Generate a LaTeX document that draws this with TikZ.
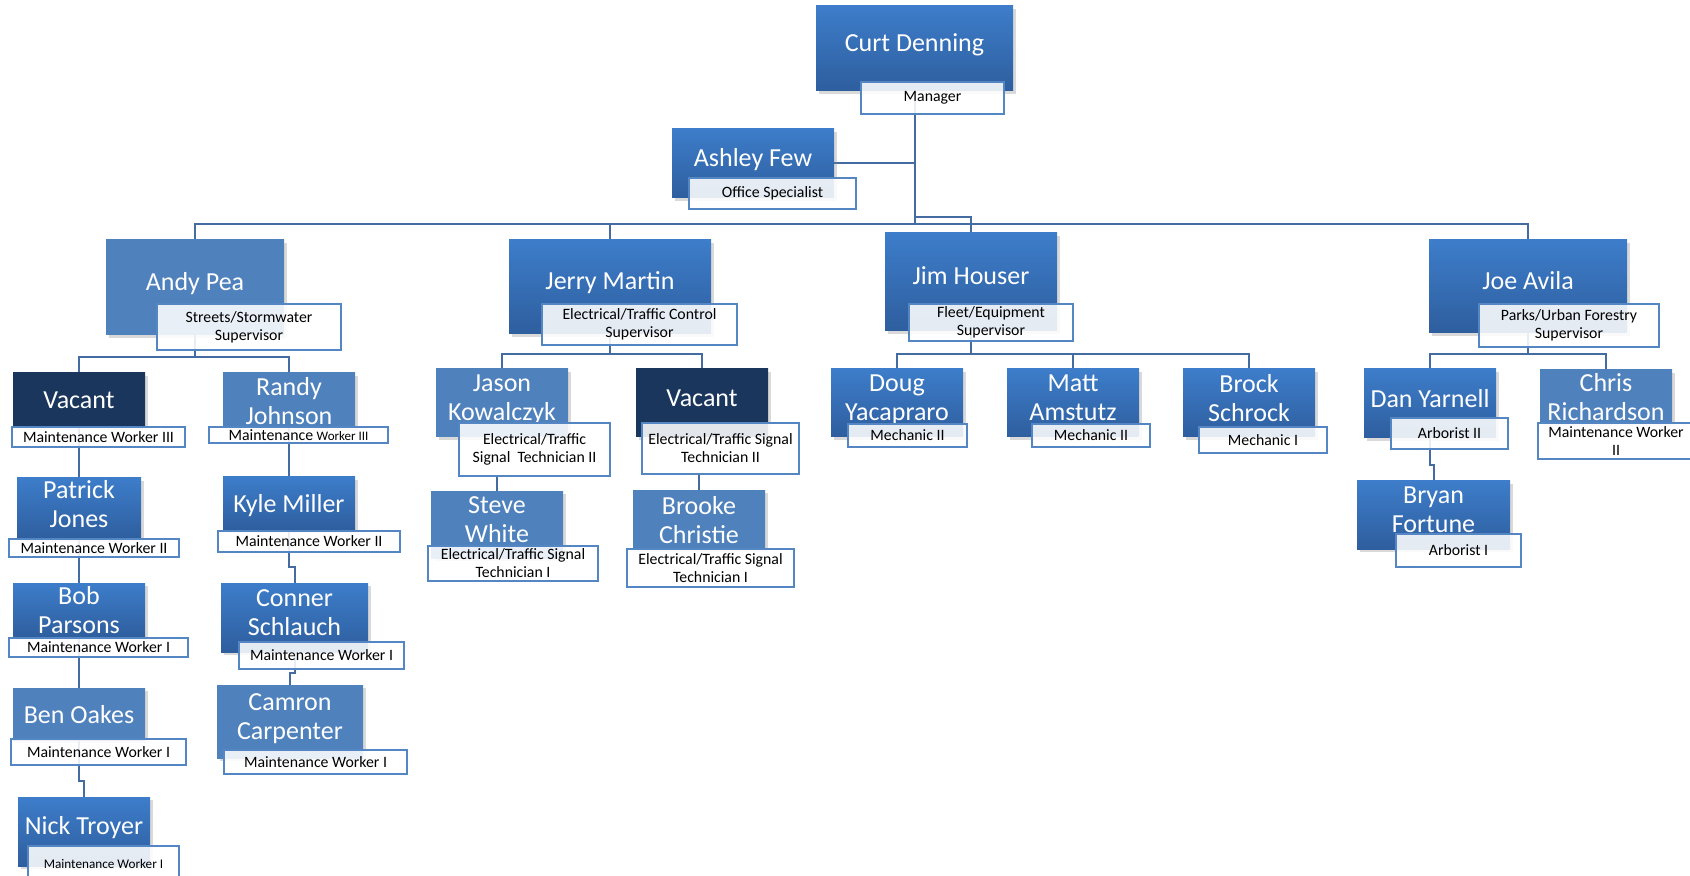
\documentclass[tikz,border=0pt]{standalone}
\usepackage{fontspec}
\setmainfont{Carlito}
\usetikzlibrary{shadows,backgrounds}

\definecolor{boxtop}{RGB}{61,125,202}
\definecolor{boxbot}{RGB}{46,94,158}
\definecolor{boxflat}{RGB}{79,129,189}
\definecolor{boxdark}{RGB}{26,54,93}
\definecolor{linkblue}{RGB}{68,108,163}
\definecolor{jobline}{RGB}{84,134,196}

\begin{document}
\begin{tikzpicture}[x=0.5pt,y=-0.5pt]
    \tikzstyle{person}=[rectangle,inner sep=0pt,align=center,text=white,text depth=5pt,
        font=\fontsize{13}{14.5}\selectfont,top color=boxtop,bottom color=boxbot,
        drop shadow={opacity=0.3,shadow xshift=1.5pt,shadow yshift=-1.5pt}]
    \tikzstyle{flat person}=[person,top color=boxflat,bottom color=boxflat]
    \tikzstyle{vacant person}=[person,top color=boxdark,bottom color=boxdark]
    \tikzstyle{head}=[text height=9pt,text depth=6pt]
    \tikzstyle{low}=[text depth=0pt]
    \tikzstyle{job}=[rectangle,inner sep=0pt,align=center,draw=jobline,line width=1pt,
        fill=white,fill opacity=0.88,text opacity=1,font=\fontsize{7.9}{9}\selectfont]
    \tikzstyle{link}=[draw=linkblue,line width=1pt]
    \useasboundingbox (0,0) rectangle (1690,876);

    % Manager and office
    \node[person,head,minimum width=98.5pt,minimum height=42.5pt] (curt) at (914.5,48.5) {Curt Denning};
    \node[job,minimum width=71.5pt,minimum height=16pt] (curtJob) at (932.5,98) {Manager};
    \node[person,head,minimum width=81pt,minimum height=34.5pt] (ashley) at (753,163.5) {Ashley Few};
    \node[job,minimum width=83.5pt,minimum height=15.5pt] (ashleyJob) at (772.5,193.5) {Office Specialist};

    % Supervisors
    \node[flat person,head,minimum width=89pt,minimum height=47.5pt] (andy) at (195,287.5) {Andy Pea};
    \node[job,minimum width=92pt,minimum height=23pt] (andyJob) at (249,327) {Streets/Stormwater\\Supervisor};
    \node[person,head,minimum width=101pt,minimum height=47pt] (jerry) at (610,287) {Jerry Martin};
    \node[job,minimum width=97.5pt,minimum height=20.5pt] (jerryJob) at (639.5,324.5) {Electrical/Traffic Control\\Supervisor};
    \node[person,head,minimum width=86pt,minimum height=49pt] (jim) at (971,282) {Jim Houser};
    \node[job,minimum width=82pt,minimum height=18.5pt] (jimJob) at (991,322.5) {Fleet/Equipment\\Supervisor};
    \node[person,head,minimum width=99pt,minimum height=46.5pt] (joe) at (1528,286.5) {Joe Avila};
    \node[job,minimum width=90pt,minimum height=21.5pt] (joeJob) at (1569,325.5) {Parks/Urban Forestry\\Supervisor};

    % Streets / stormwater
    \node[vacant person,low,minimum width=66pt,minimum height=27pt] (vacantA) at (79,400) {Vacant};
    \node[job,minimum width=86.5pt,minimum height=10pt] (vacantAJob) at (98.5,437) {Maintenance Worker III};
    \node[flat person,low,minimum width=66pt,minimum height=27.5pt] (randy) at (289,400.5) {Randy\\Johnson};
    \node[job,minimum width=89.5pt,minimum height=8pt] (randyJob) at (298.5,435) {Maintenance {\fontsize{6.5}{8}\selectfont Worker III}};
    \node[person,minimum width=62pt,minimum height=30.5pt] (patrick) at (79,508.5) {Patrick\\Jones};
    \node[job,minimum width=85pt,minimum height=9pt] (patrickJob) at (94,548) {Maintenance Worker II};
    \node[person,low,minimum width=66pt,minimum height=27pt] (bob) at (79,610) {Bob\\Parsons};
    \node[job,minimum width=89.5pt,minimum height=9.5pt] (bobJob) at (98.5,647.5) {Maintenance Worker I};
    \node[flat person,low,minimum width=66pt,minimum height=26pt] (ben) at (79,714) {Ben Oakes};
    \node[job,minimum width=87.5pt,minimum height=13pt] (benJob) at (98.5,752) {Maintenance Worker I};
    \node[person,text depth=6pt,minimum width=66pt,minimum height=34.5pt] (nick) at (84,831.5) {Nick Troyer};
    \node[job,minimum width=75.5pt,minimum height=18pt,font=\fontsize{6.6}{8}\selectfont] (nickJob) at (103.5,864) {Maintenance Worker I};
    \node[person,low,minimum width=66pt,minimum height=26.5pt] (kyle) at (289,503.5) {Kyle Miller};
    \node[job,minimum width=91pt,minimum height=10.5pt] (kyleJob) at (309,541.5) {Maintenance Worker II};
    \node[person,minimum width=73.5pt,minimum height=34.5pt] (conner) at (294.5,617.5) {Conner\\Schlauch};
    \node[job,minimum width=82.5pt,minimum height=13.5pt] (connerJob) at (321.5,655.5) {Maintenance Worker I};
    \node[flat person,minimum width=73pt,minimum height=36.5pt] (camron) at (290,721.5) {Camron\\Carpenter};
    \node[job,minimum width=91.5pt,minimum height=12pt] (camronJob) at (315.5,762) {Maintenance Worker I};

    % Electrical / traffic
    \node[flat person,minimum width=66pt,minimum height=34pt] (jason) at (502,403) {Jason\\Kowalczyk};
    \node[job,minimum width=75.5pt,minimum height=26.5pt] (jasonJob) at (534.5,449.5) {Electrical/Traffic\\Signal\ \ Technician II};
    \node[vacant person,minimum width=66pt,minimum height=34pt] (vacantB) at (702,403) {Vacant};
    \node[job,minimum width=78.5pt,minimum height=25.5pt] (vacantBJob) at (720.5,448.5) {Electrical/Traffic Signal\\Technician II};
    \node[flat person,minimum width=66pt,minimum height=33.5pt] (steve) at (497,524.5) {Steve\\White};
    \node[job,minimum width=85pt,minimum height=17.5pt] (steveJob) at (513,563.5) {Electrical/Traffic Signal\\Technician I};
    \node[flat person,low,minimum width=66pt,minimum height=29.5pt] (brooke) at (699,519.5) {Brooke\\Christie};
    \node[job,minimum width=83.5pt,minimum height=19pt] (brookeJob) at (710.5,568) {Electrical/Traffic Signal\\Technician I};

    % Fleet / equipment
    \node[person,minimum width=66pt,minimum height=34pt] (doug) at (897,403) {Doug\\Yacapraro};
    \node[job,minimum width=59.5pt,minimum height=11.5pt] (dougJob) at (907.5,435.5) {Mechanic II};
    \node[person,minimum width=66pt,minimum height=34pt] (matt) at (1073,403) {Matt\\Amstutz};
    \node[job,minimum width=59pt,minimum height=11.5pt] (mattJob) at (1091,435.5) {Mechanic II};
    \node[person,minimum width=66pt,minimum height=34pt] (brock) at (1249,403) {Brock\\Schrock};
    \node[job,minimum width=64pt,minimum height=13pt] (brockJob) at (1263,440) {Mechanic I};

    % Parks / urban forestry
    \node[person,minimum width=66pt,minimum height=34.5pt] (dan) at (1430,403.5) {Dan Yarnell};
    \node[job,minimum width=58.5pt,minimum height=15.5pt] (danJob) at (1449.5,433.5) {Arborist II};
    \node[flat person,low,minimum width=66pt,minimum height=26.5pt] (chris) at (1606,396.5) {Chris\\Richardson};
    \node[job,minimum width=78pt,minimum height=18pt] (chrisJob) at (1616,441) {Maintenance Worker\\II};
    \node[person,minimum width=76.5pt,minimum height=34pt] (bryan) at (1433.5,515) {Bryan\\Fortune};
    \node[job,minimum width=62.5pt,minimum height=16.5pt] (bryanJob) at (1458.5,550.5) {Arborist I};

    % Connectors
    \begin{scope}[on background layer]
    \coordinate (hub) at (curt.south |- 0,224);
    \coordinate (hubJim) at (curt.south |- 0,217);
    \draw[link] (curt.south) -- (hub);
    \draw[link] (ashley.east) -- (ashley.east -| hub);
    \draw[link] (andy.north) |- (hub) -| (joe.north);
    \draw[link] (jerry.north) -- (jerry.north |- hub);
    \draw[link] (hubJim) -| (jim.north);

    \coordinate (andyBus) at (andy.south |- 0,357);
    \draw[link] (andy.south) -- (andyBus);
    \draw[link] (vacantA.north) |- (andyBus) -| (randy.north);
    \draw[link] (vacantA.south) -- (patrick.north);
    \draw[link] (patrick.south) -- (bob.north);
    \draw[link] (bob.south) -- (ben.north);
    \draw[link] (ben.south) -- (ben.south |- 0,781) -| (nick.north);
    \draw[link] (randy.south) -- (kyle.north);
    \draw[link] (kyle.south) -- (kyle.south |- 0,567) -| (conner.north);
    \draw[link] (conner.south) -- (conner.south |- 0,673) -| (camron.north);

    \coordinate (jerryBus) at (jerry.south |- 0,354);
    \draw[link] (jerry.south) -- (jerryBus);
    \draw[link] (jason.north) |- (jerryBus) -| (vacantB.north);
    \draw[link] (steve.north |- jasonJob.south) -- (steve.north);
    \draw[link] (brooke.north |- vacantBJob.south) -- (brooke.north);

    \coordinate (jimBus) at (jim.south |- 0,354);
    \draw[link] (jim.south) -- (jimBus);
    \draw[link] (doug.north) |- (jimBus) -| (brock.north);
    \draw[link] (matt.north) -- (matt.north |- jimBus);

    \coordinate (joeBus) at (joe.south |- 0,354);
    \draw[link] (joe.south) -- (joeBus);
    \draw[link] (dan.north) |- (joeBus) -| (chris.north);
    \draw[link] (dan.south) -- (dan.south |- 0,465) -| (bryan.north);
    \end{scope}
\end{tikzpicture}
\end{document}
